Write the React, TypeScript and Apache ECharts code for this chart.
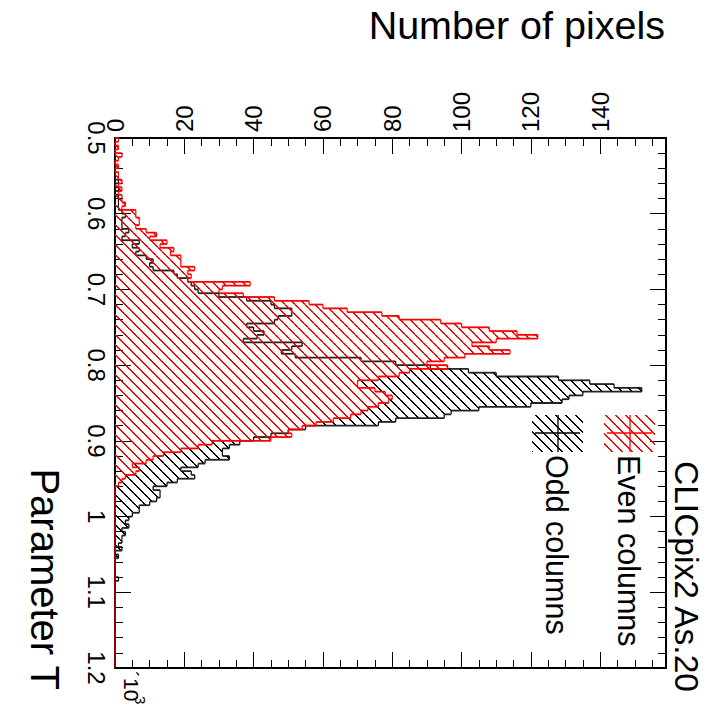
import React, { useEffect, useRef } from "react";
import * as echarts from "echarts";

// ---- data ----
const T_START = 0.5;
const T_END = 1.2;
const BIN_WIDTH = 0.005;
const COUNT_MAX = 159;

// "Even columns" counts per bin, bins of 0.005 starting at T = 0.5
const evenColumns = [
  1, 0, 1, 0, 2, 1, 0, 1, 0, 1,
  1, 2, 1, 2, 1, 2, 2, 3, 2, 6,
  6, 7, 7, 6, 9, 12, 10, 15, 13, 17,
  16, 19, 19, 19, 23, 21, 22, 21, 39, 31,
  30, 37, 46, 56, 60, 67, 77, 82, 94, 100,
  108, 116, 122, 110, 103, 108, 114, 101, 95, 90,
  96, 85, 82, 76, 70, 70, 75, 78, 80, 79,
  76, 73, 71, 68, 63, 58, 54, 50, 51, 45,
  28, 24, 19, 14, 11, 9, 5, 7, 6, 3,
  2, 1,
];

// "Odd columns" counts per bin
const oddColumns = [
  0, 0, 0, 0, 0, 0, 0, 0, 0, 0,
  0, 1, 0, 1, 0, 1, 1, 1, 1, 2,
  3, 2, 2, 2, 4, 3, 2, 7, 5, 7,
  6, 9, 11, 10, 11, 17, 18, 21, 22, 23,
  24, 30, 38, 45, 46, 51, 51, 47, 46, 38,
  40, 43, 41, 37, 54, 51, 48, 52, 71, 81,
  91, 102, 110, 128, 137, 144, 152, 135, 131, 129,
  120, 105, 97, 95, 81, 76, 55, 50, 45, 40,
  36, 33, 31, 31, 33, 26, 24, 19, 22, 23,
  18, 15, 11, 13, 13, 12, 10, 7, 7, 5,
  4, 3, 4, 2, 3, 2, 2, 1, 2, 0,
  1, 0, 0, 0, 0, 0, 1,
];

const TITLE = "CLICpix2 As.20";
const X_TITLE = "Parameter T";
const Y_TITLE = "Number of pixels";
const LEGEND_EVEN = "Even columns";
const LEGEND_ODD = "Odd columns";
const EXPONENT_BASE = "\u00b410";
const EXPONENT = "3";

const FONT = '"Liberation Sans", Arial, Helvetica, sans-serif';
const RED = "#ff0000";
const BLACK = "#000000";

function makeHatch(color: string) {
  const P = 10;
  const c = document.createElement("canvas");
  c.width = P;
  c.height = P;
  const ctx = c.getContext("2d") as CanvasRenderingContext2D;
  ctx.fillStyle = color;
  for (let i = 0; i < P; i++) {
    ctx.fillRect(i, i, 1, 1);
    ctx.fillRect((i + 1) % P, i, 1, 1);
  }
  return { image: c, repeat: "repeat", imageWidth: P, imageHeight: P };
}

function buildTable(counts: number[]) {
  const nBins = Math.round((T_END - T_START) / BIN_WIDTH);
  const full: number[] = [];
  for (let i = 0; i < nBins; i++) full.push(i < counts.length ? counts[i] : 0);
  return full.map((c, i) => [
    T_START + i * BIN_WIDTH,
    T_START + (i + 1) * BIN_WIDTH,
    c,
    i + 1 < full.length ? full[i + 1] : 0,
    i > 0 ? full[i - 1] : 0,
    i,
  ]);
}

function histSeries(name: string, counts: number[], color: string, hatch: any, stepColor: string) {
  return {
    type: "custom",
    name,
    xAxisIndex: 0,
    yAxisIndex: 0,
    clip: false,
    encode: { x: 2, y: [0, 1] },
    data: buildTable(counts),
    renderItem: (params: any, api: any) => {
      const tLo = api.value(0);
      const tHi = api.value(1);
      const c = api.value(2);
      const cn = api.value(3);
      const cp = api.value(4);
      const idx = api.value(5);
      const p0 = api.coord([0, tLo]);
      const p1 = api.coord([c, tHi]);
      const x0 = p0[0];
      const y0 = p0[1];
      const xc = p1[0];
      const y1 = p1[1];
      const xn = api.coord([cn, tHi])[0];
      const xp = api.coord([cp, tLo])[0];
      const children: any[] = [];
      if (c > 0) {
        children.push({
          type: "rect",
          shape: { x: x0, y: y0, width: xc - x0, height: y1 - y0 },
          style: { fill: hatch, stroke: null },
        });
      }
      children.push({
        type: "line",
        shape: { x1: xc, y1: y0, x2: xc, y2: y1 },
        style: { stroke: color, lineWidth: 1.2 },
      });
      children.push({
        type: "line",
        shape: { x1: xc, y1: y1, x2: xn, y2: y1 },
        style: { stroke: stepColor, lineWidth: 1.8 },
      });
      if (idx === 0) {
        children.push({
          type: "line",
          shape: { x1: xp, y1: y0, x2: xc, y2: y0 },
          style: { stroke: stepColor, lineWidth: 1.8 },
        });
      }
      return { type: "group", children };
    },
  };
}

export default function App() {
  const ref = useRef<HTMLDivElement>(null);

  useEffect(() => {
    if (!ref.current) return;
    const chart = echarts.init(ref.current, null, { renderer: "svg" });
    const redHatch = makeHatch(RED);
    const blackHatch = makeHatch(BLACK);

    const lineStyle = { color: "#000", width: 2 };
    const tickStyle = { color: "#000", width: 1 };
    const countAxisBase = {
      type: "value",
      min: 0,
      max: COUNT_MAX,
      splitLine: { show: false },
    };
    const tAxisBase = {
      type: "value",
      inverse: true,
      min: T_START,
      max: T_END,
      interval: 0.1,
      splitLine: { show: false },
      minorSplitLine: { show: false },
      axisLine: { show: true, onZero: false, lineStyle },
      axisTick: { show: true, inside: true, length: 16, lineStyle: tickStyle },
      minorTick: { show: true, splitNumber: 5, length: 8, lineStyle: tickStyle },
    };

    const option: any = {
      animation: false,
      grid: { left: 115, top: 138, right: 59, bottom: 58, containLabel: false },
      xAxis: [
        {
          ...countAxisBase,
          position: "top",
          interval: 20,
          axisLine: { show: true, onZero: false, lineStyle },
          axisTick: { show: true, inside: true, length: 16, lineStyle: tickStyle },
          axisLabel: {
            show: true,
            rotate: -90,
            margin: 6,
            color: "#000",
            fontSize: 24,
            fontFamily: FONT,
            showMaxLabel: false,
            showMinLabel: true,
          },
        },
        {
          ...countAxisBase,
          position: "top",
          interval: 5,
          axisLine: { show: false },
          axisTick: { show: true, inside: true, length: 8, lineStyle: tickStyle },
          axisLabel: { show: false },
        },
        {
          ...countAxisBase,
          position: "bottom",
          interval: 20,
          axisLine: { show: true, onZero: false, lineStyle },
          axisTick: { show: true, inside: true, length: 16, lineStyle: tickStyle },
          axisLabel: { show: false },
        },
        {
          ...countAxisBase,
          position: "bottom",
          interval: 5,
          axisLine: { show: false },
          axisTick: { show: true, inside: true, length: 8, lineStyle: tickStyle },
          axisLabel: { show: false },
        },
      ],
      yAxis: [
        {
          ...tAxisBase,
          position: "left",
          axisLabel: {
            show: true,
            rotate: -90,
            margin: 7,
            color: "#000",
            fontSize: 24,
            fontFamily: FONT,
            formatter: (v: number) => String(Math.round(v * 10) / 10),
          },
        },
        {
          ...tAxisBase,
          position: "right",
          axisLabel: { show: false },
        },
      ],
      series: [
        histSeries(LEGEND_ODD, oddColumns, BLACK, blackHatch, "#222"),
        histSeries(LEGEND_EVEN, evenColumns, RED, redHatch, RED),
      ],
      graphic: [
        {
          type: "text",
          x: 665,
          y: 25,
          z: 10,
          style: {
            text: Y_TITLE,
            fontSize: 39.5,
            fontFamily: FONT,
            fill: "#000",
            align: "right",
            verticalAlign: "middle",
          },
        },
        {
          type: "text",
          x: 45,
          y: 690,
          rotation: -Math.PI / 2,
          z: 10,
          style: {
            text: X_TITLE,
            fontSize: 40,
            fontFamily: FONT,
            fill: "#000",
            align: "right",
            verticalAlign: "middle",
          },
        },
        {
          type: "text",
          x: 686,
          y: 461,
          rotation: -Math.PI / 2,
          z: 10,
          style: {
            text: TITLE,
            fontSize: 33.5,
            fontFamily: FONT,
            fill: "#000",
            align: "left",
            verticalAlign: "middle",
          },
        },
        {
          type: "text",
          x: 629,
          y: 455,
          rotation: -Math.PI / 2,
          z: 10,
          style: {
            text: LEGEND_EVEN,
            fontSize: 30.5,
            fontFamily: FONT,
            fill: "#000",
            align: "left",
            verticalAlign: "middle",
          },
        },
        {
          type: "text",
          x: 557,
          y: 455,
          rotation: -Math.PI / 2,
          z: 10,
          style: {
            text: LEGEND_ODD,
            fontSize: 30.5,
            fontFamily: FONT,
            fill: "#000",
            align: "left",
            verticalAlign: "middle",
          },
        },
        {
          type: "rect",
          z: 10,
          shape: { x: 604, y: 415, width: 51, height: 37 },
          style: { fill: redHatch, stroke: null },
        },
        {
          type: "line",
          z: 11,
          shape: { x1: 630, y1: 415, x2: 630, y2: 452 },
          style: { stroke: RED, lineWidth: 1.3 },
        },
        {
          type: "line",
          z: 11,
          shape: { x1: 607, y1: 433, x2: 652, y2: 433 },
          style: { stroke: RED, lineWidth: 1.3 },
        },
        {
          type: "rect",
          z: 10,
          shape: { x: 532, y: 415, width: 51, height: 37 },
          style: { fill: blackHatch, stroke: null },
        },
        {
          type: "line",
          z: 11,
          shape: { x1: 558, y1: 415, x2: 558, y2: 452 },
          style: { stroke: BLACK, lineWidth: 1.3 },
        },
        {
          type: "line",
          z: 11,
          shape: { x1: 535, y1: 433, x2: 580, y2: 433 },
          style: { stroke: BLACK, lineWidth: 1.3 },
        },
        {
          type: "text",
          x: 131,
          y: 671,
          rotation: -Math.PI / 2,
          z: 10,
          style: {
            text: EXPONENT_BASE,
            fontSize: 21,
            fontFamily: FONT,
            fill: "#000",
            align: "left",
            verticalAlign: "middle",
          },
        },
        {
          type: "text",
          x: 140,
          y: 696,
          rotation: -Math.PI / 2,
          z: 10,
          style: {
            text: EXPONENT,
            fontSize: 15,
            fontFamily: FONT,
            fill: "#000",
            align: "left",
            verticalAlign: "middle",
          },
        },
      ],
    };

    chart.setOption(option);
    return () => {
      chart.dispose();
    };
  }, []);

  return (
    <div
      ref={ref}
      style={{ position: "fixed", left: 0, top: 0, width: 725, height: 726, background: "#fff" }}
    />
  );
}
